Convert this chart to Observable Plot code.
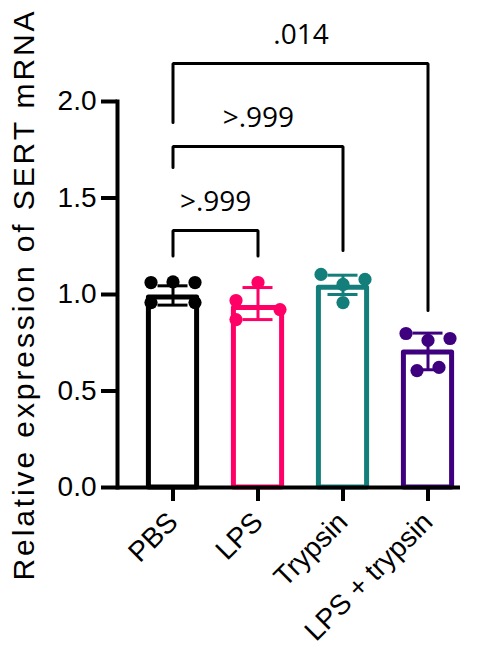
<!DOCTYPE html>
<html>
<head>
<meta charset="utf-8">
<script src="https://cdn.jsdelivr.net/npm/d3@7"></script>
<script src="https://cdn.jsdelivr.net/npm/@observablehq/plot@0.6"></script>
<style>
  html, body { margin: 0; padding: 0; background: #fff; }
  #chart { width: 487px; height: 658px; }
</style>
</head>
<body>
<div id="chart"></div>
<script>
// ---- data ----
const groups = ["PBS", "LPS", "Trypsin", "LPS + trypsin"];
const colors = ["#000000", "#ff0066", "#137e7a", "#3f007f"];
const means = [0.985, 0.93, 1.035, 0.70];
const errLow = [0.945, 0.87, 1.00, 0.61];
const errHigh = [1.045, 1.036, 1.10, 0.80];

const pointGroup = ["PBS","PBS","PBS","PBS","PBS",
                    "LPS","LPS","LPS","LPS",
                    "Trypsin","Trypsin","Trypsin","Trypsin",
                    "LPS + trypsin","LPS + trypsin","LPS + trypsin","LPS + trypsin","LPS + trypsin"];
const pointValue = [1.062, 1.065, 1.062, 0.958, 0.958,
                    1.062, 0.969, 0.922, 0.870,
                    1.104, 1.078, 1.052, 0.958,
                    0.798, 0.762, 0.772, 0.606, 0.622];
const pointSlot = [-1, 0, 1, -1, 1,
                   0, -1, 1, -1,
                   -1, 1, 0, 0,
                   -1, 0, 1, -0.5, 0.5];

const bracketFrom = ["PBS", "PBS", "PBS"];
const bracketTo = ["LPS", "Trypsin", "LPS + trypsin"];
const bracketTop = [1.332, 1.767, 2.197];
const bracketLegFrom = [1.20, 1.658, 1.891];
const bracketLegTo = [1.20, 1.228, 0.917];
const bracketLabel = [">.999", ">.999", ".014"];

const yTicks = [0, 0.5, 1.0, 1.5, 2.0];
const yTitle = "Relative expression of SERT mRNA";

// ---- tables built from the arrays ----
const bars = groups.map((g, i) => ({group: g, mean: means[i], low: errLow[i], high: errHigh[i]}));
const points = pointGroup.map((g, i) => ({group: g, value: pointValue[i], slot: pointSlot[i]}));
const bracketLines = [];
bracketFrom.forEach((f, i) => {
  bracketLines.push({b: i, x: f, y: bracketLegFrom[i]});
  bracketLines.push({b: i, x: f, y: bracketTop[i]});
  bracketLines.push({b: i, x: bracketTo[i], y: bracketTop[i]});
  bracketLines.push({b: i, x: bracketTo[i], y: bracketLegTo[i]});
});

const xRange = [129.33, 470.67];
const step = (xRange[1] - xRange[0]) / groups.length;
const jitter = 22;

const marks = [
  Plot.barY(bars, {x: "group", y: "mean", fill: "white", stroke: "group", strokeWidth: 5,
    strokeLinejoin: "round", insetLeft: 18.4, insetRight: 18.4}),
  Plot.ruleX(bars, {x: "group", y1: "low", y2: "high", stroke: "group", strokeWidth: 3}),
  Plot.tickY(bars, {x: "group", y: "low", stroke: "group", strokeWidth: 3, insetLeft: 27.5, insetRight: 27.5}),
  Plot.tickY(bars, {x: "group", y: "high", stroke: "group", strokeWidth: 3, insetLeft: 27.5, insetRight: 27.5}),
];
[-1, -0.5, 0, 0.5, 1].forEach(s => {
  marks.push(Plot.dot(points.filter(d => d.slot === s),
    {x: "group", y: "value", fill: "group", r: 6.6, dx: s * jitter}));
});
marks.push(
  Plot.line(bracketLines, {x: "x", y: "y", z: "b", stroke: "black", strokeWidth: 3, strokeLinejoin: "miter"})
);
bracketFrom.forEach((f, i) => {
  const span = groups.indexOf(bracketTo[i]) - groups.indexOf(f);
  marks.push(Plot.text([i], {x: () => f, y: () => bracketTop[i], text: () => bracketLabel[i],
    dx: span * step / 2, dy: -28, fontSize: 28, fontFamily: "Open Sans", fill: "black"}));
});
marks.push(
  Plot.ruleY([0], {stroke: "black", strokeWidth: 4}),
  Plot.frame({anchor: "left", stroke: "black", strokeWidth: 4}),
  Plot.axisY({ticks: yTicks, tickFormat: d3.format(".1f"), tickSize: 16, tickPadding: 5,
    fontSize: 28, strokeWidth: 4, label: null}),
  Plot.axisX({tickSize: 14, tickRotate: -45, fontSize: 28, strokeWidth: 4, tickPadding: 16, label: null}),
  Plot.text([yTitle], {frameAnchor: "left", textAnchor: "middle", rotate: -90, dx: -93, fontSize: 30, fill: "black"})
);

const chart = Plot.plot({
  width: 487,
  height: 658,
  marginTop: 101,
  marginBottom: 171,
  marginLeft: 117,
  marginRight: 27,
  style: {fontFamily: "'Liberation Sans', Arial, sans-serif", background: "white", color: "black"},
  x: {domain: groups, range: xRange, padding: 0, axis: null},
  y: {domain: [0, 2], axis: null},
  color: {domain: groups, range: colors},
  marks
});

document.getElementById("chart").appendChild(chart);

// stretch the axis title's letter spacing to the reference's length
const t = Array.from(chart.querySelectorAll("text")).find(e => e.textContent === yTitle);
if (t) {
  const len = t.getComputedTextLength();
  const ls = (572 - len) / yTitle.length;
  t.style.letterSpacing = ls + "px";
}
</script>
</body>
</html>
